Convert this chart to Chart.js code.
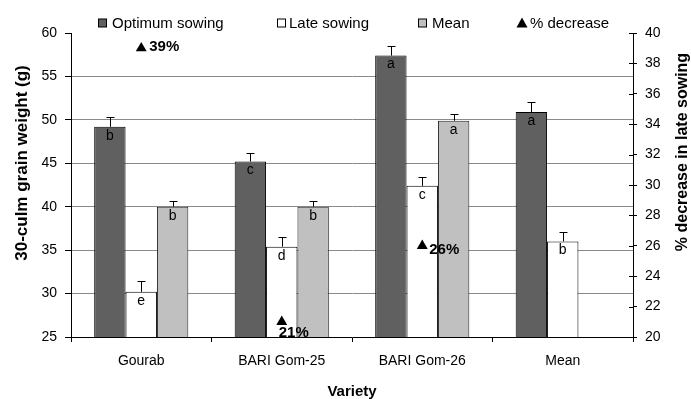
<!DOCTYPE html>
<html>
<head>
<meta charset="utf-8">
<script src="https://cdn.jsdelivr.net/npm/chart.js@4.4.0/dist/chart.umd.min.js"></script>
<style>
  html, body { margin: 0; padding: 0; background: #fff; }
  #wrap { width: 691px; height: 399px; }
</style>
</head>
<body>
<div id="wrap"><canvas id="c" width="691" height="399"></canvas></div>
<script>
// Varieties on the x axis
const varieties = ['Gourab', 'BARI Gom-25', 'BARI Gom-26', 'Mean'];

// 30-culm grain weight (g)
const optimumSowing = [49.2, 45.2, 57.4, 50.9];
const lateSowing    = [30.2, 35.4, 42.4, 36.0];
const meanSowing    = [40.0, 40.0, 49.9, null];

// Standard errors (drawn upward only)
const optimumErr = [1.1, 1.0, 1.15, 1.1];
const lateErr    = [1.2, 1.1, 1.0, 1.1];
const meanErr    = [0.7, 0.7, 0.8, null];

// Significance letters
const optimumLetters = ['b', 'c', 'a', 'a'];
const lateLetters    = ['e', 'd', 'c', 'b'];
const meanLetters    = ['b', 'b', 'a', null];

// % decrease in late sowing (right axis)
const percentDecrease = [39, 21, 26, null];

const FONT = "'Liberation Sans', Arial, sans-serif";

// Label placement of each % value relative to its triangle (dx, dy)
const pctLabelShift = [[8, -1], [-3, 11], [7, 4], [0, 0]];

const extras = {
  id: 'extras',
  afterDatasetsDraw(chart) {
    const ctx = chart.ctx;
    const ys = chart.scales.y;
    chart.data.datasets.forEach((ds, i) => {
      if (!ds.errors) return;
      const meta = chart.getDatasetMeta(i);
      meta.data.forEach((bar, j) => {
        const v = ds.data[j];
        if (v == null) return;
        const top = ys.getPixelForValue(v);
        const et = Math.round(ys.getPixelForValue(v + ds.errors[j])) + 0.5;
        const x = Math.round(bar.x) + 0.5;
        ctx.save();
        ctx.strokeStyle = '#000';
        ctx.lineWidth = 1;
        ctx.beginPath();
        ctx.moveTo(x, top);
        ctx.lineTo(x, et);
        ctx.moveTo(x - 4, et);
        ctx.lineTo(x + 4, et);
        ctx.stroke();
        if (ds.letters[j]) {
          ctx.font = '14px ' + FONT;
          ctx.fillStyle = '#000';
          ctx.textAlign = 'center';
          ctx.textBaseline = 'middle';
          ctx.fillText(ds.letters[j], bar.x, top + 9);
        }
        ctx.restore();
      });
    });

    // % decrease labels next to triangles
    const li = chart.data.datasets.findIndex(d => d.type === 'line');
    const lmeta = chart.getDatasetMeta(li);
    ctx.save();
    ctx.font = 'bold 15px ' + FONT;
    ctx.fillStyle = '#000';
    ctx.textAlign = 'left';
    ctx.textBaseline = 'middle';
    lmeta.data.forEach((pt, j) => {
      const v = percentDecrease[j];
      if (v == null) return;
      const s = pctLabelShift[j];
      ctx.fillText(v + '%', pt.x + s[0], pt.y + s[1]);
    });
    ctx.restore();
  },
  afterDraw(chart) {
    const ctx = chart.ctx;
    const area = chart.chartArea;
    const y1 = chart.scales.y1;

    // inner tick marks of the right axis
    ctx.save();
    ctx.strokeStyle = '#000';
    ctx.lineWidth = 1;
    ctx.beginPath();
    y1.ticks.forEach(t => {
      const py = Math.round(y1.getPixelForValue(t.value)) + 0.5;
      ctx.moveTo(Math.round(area.right) - 4, py);
      ctx.lineTo(Math.round(area.right), py);
    });
    ctx.stroke();

    // axis titles (both read bottom-to-top)
    ctx.fillStyle = '#000';
    ctx.textAlign = 'center';
    ctx.textBaseline = 'middle';
    ctx.save();
    ctx.font = 'bold 17px ' + FONT;
    ctx.translate(22, 163);
    ctx.rotate(-Math.PI / 2);
    ctx.fillText('30-culm grain weight (g)', 0, 0);
    ctx.restore();
    ctx.save();
    ctx.font = 'bold 16px ' + FONT;
    ctx.translate(683, 152);
    ctx.rotate(-Math.PI / 2);
    ctx.fillText('% decrease in late sowing', 0, 0);
    ctx.restore();

    // legend
    ctx.font = '15px ' + FONT;
    ctx.textAlign = 'left';
    const ly = 22.5;
    const items = [
      { box: 98, text: 112, fill: '#606060' },
      { box: 277, text: 289, fill: '#ffffff' },
      { box: 418, text: 432, fill: '#c0c0c0' }
    ];
    items.forEach((it, k) => {
      ctx.fillStyle = it.fill;
      ctx.fillRect(it.box + 0.5, ly - 3.5, 8, 8);
      ctx.strokeStyle = '#000';
      ctx.strokeRect(it.box + 0.5, ly - 3.5, 8, 8);
      ctx.fillStyle = '#000';
      ctx.fillText(chart.data.datasets[k].label, it.text, ly + 1);
    });
    ctx.beginPath();
    ctx.moveTo(522, ly - 5);
    ctx.lineTo(527.5, ly + 5);
    ctx.lineTo(516.5, ly + 5);
    ctx.closePath();
    ctx.fillStyle = '#000';
    ctx.fill();
    ctx.fillText(chart.data.datasets[3].label, 530, ly + 1);
    ctx.restore();
  }
};

new Chart(document.getElementById('c'), {
  type: 'bar',
  data: {
    labels: varieties,
    datasets: [
      { label: 'Optimum sowing', data: optimumSowing, errors: optimumErr, letters: optimumLetters,
        backgroundColor: '#606060', borderColor: '#000', borderWidth: 1, yAxisID: 'y', order: 2 },
      { label: 'Late sowing', data: lateSowing, errors: lateErr, letters: lateLetters,
        backgroundColor: '#ffffff', borderColor: '#000', borderWidth: 1, yAxisID: 'y', order: 2 },
      { label: 'Mean', data: meanSowing, errors: meanErr, letters: meanLetters,
        backgroundColor: '#c0c0c0', borderColor: '#222', borderWidth: 1, yAxisID: 'y', order: 2 },
      { type: 'line', label: '% decrease', data: percentDecrease, yAxisID: 'y1', order: 1,
        showLine: false, pointStyle: 'triangle', pointRadius: 6.3,
        pointBackgroundColor: '#000', pointBorderColor: '#000', pointBorderWidth: 0 }
    ]
  },
  options: {
    responsive: false,
    devicePixelRatio: 1,
    animation: false,
    layout: { padding: { top: 33, left: 0, right: 0, bottom: 0 } },
    datasets: { bar: { categoryPercentage: 0.67, barPercentage: 1.0 } },
    plugins: { legend: { display: false }, tooltip: { enabled: false } },
    scales: {
      x: {
        offset: true,
        grid: { drawOnChartArea: false, offset: true, tickLength: 5, tickColor: '#000' },
        border: { color: '#000', width: 1 },
        ticks: { color: '#000', font: { family: FONT, size: 14 }, padding: 11 },
        title: { display: true, text: 'Variety', color: '#000',
                 font: { family: FONT, size: 15, weight: 'bold', lineHeight: 1 }, padding: 0 },
        afterFit(s) { s.height = 62; }
      },
      y: {
        position: 'left',
        min: 25, max: 60,
        ticks: { stepSize: 5, color: '#000', font: { family: FONT, size: 14 }, padding: 8 },
        grid: {
          color: c => (c.tick && (c.tick.value === 60 || c.tick.value === 25)) ? 'rgba(0,0,0,0)' : '#8a8a8a',
          tickColor: '#000', tickLength: 6, lineWidth: 1
        },
        border: { color: '#000', width: 1 },
        afterFit(s) { s.width = 71; }
      },
      y1: {
        position: 'right',
        min: 20, max: 40,
        ticks: { stepSize: 2, color: '#000', font: { family: FONT, size: 14 }, padding: 8 },
        grid: { drawOnChartArea: false, tickColor: '#000', tickLength: 4 },
        border: { color: '#000', width: 1 },
        afterFit(s) { s.width = 58; }
      }
    }
  },
  plugins: [extras]
});
</script>
</body>
</html>
